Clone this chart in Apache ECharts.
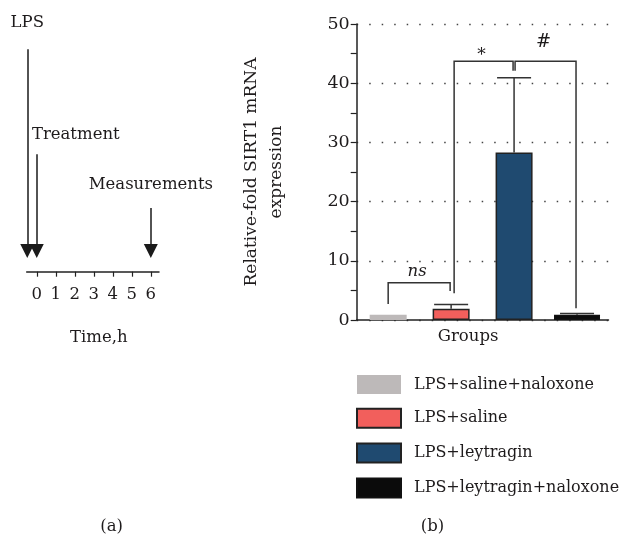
<!DOCTYPE html>
<html><head><meta charset="utf-8">
<script src="https://cdn.jsdelivr.net/npm/echarts@6/dist/echarts.min.js"></script>
<style>html,body{margin:0;padding:0;background:#fff}#c{width:627px;height:537px}</style>
</head><body><div id="c"></div>
<script>
// ---------- Data: panel (a) timeline ----------
const timeTicks = [0, 1, 2, 3, 4, 5, 6];
const timeTickLabels = ['0', '1', '2', '3', '4', '5', '6'];
const eventNames = ['LPS', 'Treatment', 'Measurements'];
const eventTimes = [-0.5, 0, 6];

// ---------- Data: panel (b) bar chart ----------
const groups = ['LPS+saline+naloxone', 'LPS+saline', 'LPS+leytragin', 'LPS+leytragin+naloxone'];
const means = [0.9, 1.9, 28.3, 0.9];
const upperErrors = [null, 2.6, 40.9, 1.1];
const yTickLabels = ['0', '10', '20', '30', '40', '50'];
const bracketFrom = [0, 1, 2];
const bracketTo = [1, 2, 3];
const bracketTop = [6.3, 43.7, 43.7];
const bracketLeftEnd = [2.7, 4.5, 42.1];
const bracketRightEnd = [4.9, 42.1, 2.0];
const bracketMarks = ['ns', '*', '#'];

// ---------- Styles / layout ----------
const FONT = 'DejaVu Serif';
const TXT = '#1e1b1c';
const barColors = ['#bdb9b9', '#f25f5c', '#1f4a70', '#0b0b0b'];
const barBorders = [null, '#222', '#222', '#111'];
const eventStartHeights = [89, 47, 25.5];
const arrowEndHeight = 8.3;
const eventLabelOffsets = [[0, -26], [39, -19], [0, -23]];
const bracketPxOffsets = [[0, -1], [3, -1], [1, -1]];
const markStyles = [
  {size: 16.5, italic: true, dy: -11},
  {size: 17, italic: false, dy: -6},
  {size: 18, italic: false, dy: -18.5}
];

const chart = echarts.init(document.getElementById('c'), null, {renderer: 'canvas'});

const barSeries = groups.map((g, i) => ({
  type: 'bar',
  name: g,
  xAxisIndex: i === 3 ? 2 : 1,
  yAxisIndex: 1,
  barWidth: i === 3 ? 46 : 37,
  barGap: '-100%',
  data: groups.map((_, j) => (j === i ? means[i] : '-')),
  itemStyle: {
    color: barColors[i],
    borderColor: barBorders[i] || barColors[i],
    borderWidth: barBorders[i] ? 1.5 : 0
  },
  emphasis: {disabled: true},
  z: 2
}));

const errData = [];
upperErrors.forEach((u, j) => { if (u != null) errData.push([j, means[j], u]); });

const bracketData = bracketFrom.map((f, k) => [f, bracketTo[k], bracketTop[k], bracketLeftEnd[k], bracketRightEnd[k], k]);

const option = {
  backgroundColor: '#fff',
  animation: false,
  textStyle: {fontFamily: FONT, color: TXT},
  grid: [
    {left: 26.7, right: 468, top: 21.7, bottom: 265.3, outerBoundsMode: 'none'},
    {left: 356.7, right: 18.5, top: 24, bottom: 217, outerBoundsMode: 'none'}
  ],
  xAxis: [
    {
      type: 'value', gridIndex: 0, min: -0.53, max: 6.43,
      axisLine: {show: true, lineStyle: {color: '#222', width: 1.5}},
      axisTick: {show: true, customValues: timeTicks, length: 5, lineStyle: {color: '#222', width: 1.2}},
      axisLabel: {show: true, customValues: timeTicks, margin: 15,
        formatter: v => timeTickLabels[timeTicks.indexOf(Math.round(v))],
        fontFamily: FONT, fontSize: 16.5, color: TXT},
      splitLine: {show: false},
      name: 'Time,h', nameLocation: 'middle', nameGap: 58,
      nameTextStyle: {fontFamily: FONT, fontSize: 16.5, color: TXT, padding: [0, 0, 0, 12]}
    },
    {
      type: 'category', gridIndex: 1, data: groups,
      axisLine: {show: true, lineStyle: {color: '#222', width: 1.5}},
      axisTick: {show: false},
      axisLabel: {show: false},
      name: 'Groups', nameLocation: 'middle', nameGap: 8,
      nameTextStyle: {fontFamily: FONT, fontSize: 16.5, color: TXT, padding: [0, 29, 0, 0]}
    },
    {
      type: 'category', gridIndex: 1, data: groups, show: false
    }
  ],
  yAxis: [
    {type: 'value', gridIndex: 0, min: 0, max: 100, show: false},
    {
      type: 'value', gridIndex: 1, min: 0, max: 50, interval: 10,
      axisLine: {show: true, lineStyle: {color: '#222', width: 1.5}},
      axisTick: {show: true, length: 6, lineStyle: {color: '#222', width: 1.2}},
      minorTick: {show: true, splitNumber: 2, length: 6, lineStyle: {color: '#222', width: 1.2}},
      axisLabel: {margin: 7, fontFamily: FONT, fontSize: 17.5, color: TXT,
        formatter: v => yTickLabels[Math.round(v / 10)]},
      splitLine: {show: true, lineStyle: {color: '#444', width: 1.3, type: [1.5, 11]}},
      name: 'Relative-fold SIRT1 mRNA\nexpression', nameLocation: 'middle', nameGap: 68,
      nameTextStyle: {fontFamily: FONT, fontSize: 17, color: TXT, lineHeight: 25, align: 'center'}
    }
  ],
  legend: {
    data: groups, orient: 'vertical', left: 356, top: 375, padding: 0,
    itemWidth: 44, itemHeight: 19, itemGap: 13.8, icon: 'rect',
    selectedMode: false,
    textStyle: {fontFamily: FONT, fontSize: 16, color: TXT, padding: [0, 0, 0, 8]}
  },
  graphic: [
    {type: 'text', x: 111.7, y: 526.7, style: {text: '(a)', font: '16.5px "DejaVu Serif"', fill: TXT, align: 'center', verticalAlign: 'middle'}},
    {type: 'text', x: 432.5, y: 526.7, style: {text: '(b)', font: '16.5px "DejaVu Serif"', fill: TXT, align: 'center', verticalAlign: 'middle'}}
  ],
  series: [
    {
      type: 'lines', coordinateSystem: 'cartesian2d', xAxisIndex: 0, yAxisIndex: 0,
      symbol: ['none', 'triangle'], symbolSize: 14, clip: false,
      lineStyle: {color: '#1a1a1a', width: 1.5, opacity: 1},
      itemStyle: {color: '#1a1a1a'},
      data: eventTimes.map((t, i) => ({coords: [[t, eventStartHeights[i]], [t, arrowEndHeight]]})),
      silent: true
    },
    {
      type: 'scatter', xAxisIndex: 0, yAxisIndex: 0, symbolSize: 0, silent: true, clip: false,
      itemStyle: {opacity: 1, color: TXT},
      data: eventTimes.map((t, i) => ({
        name: eventNames[i], value: [t, eventStartHeights[i]],
        label: {offset: eventLabelOffsets[i]}
      })),
      label: {show: true, position: 'inside', formatter: '{b}', fontFamily: FONT, fontSize: 16.5,
        color: TXT, textBorderWidth: 0, opacity: 1}
    },
    ...barSeries,
    {
      type: 'custom', xAxisIndex: 1, yAxisIndex: 1, z: 5, silent: true,
      encode: {x: 0, y: [1, 2]},
      data: errData,
      renderItem: (params, api) => {
        const p0 = api.coord([api.value(0), api.value(1)]);
        const p1 = api.coord([api.value(0), api.value(2)]);
        const hw = 17;
        const st = {stroke: '#333', lineWidth: 1.5};
        return {type: 'group', children: [
          {type: 'line', shape: {x1: p0[0], y1: p0[1], x2: p1[0], y2: p1[1]}, style: st},
          {type: 'line', shape: {x1: p1[0] - hw, y1: p1[1], x2: p1[0] + hw, y2: p1[1]}, style: st}
        ]};
      }
    },
    {
      type: 'custom', xAxisIndex: 1, yAxisIndex: 1, z: 6, silent: true,
      encode: {x: [0, 1], y: [2, 3, 4]},
      data: bracketData,
      renderItem: (params, api) => {
        const k = api.value(5);
        const off = bracketPxOffsets[k];
        const a = api.coord([api.value(0), api.value(2)]);
        const b = api.coord([api.value(1), api.value(2)]);
        const aEnd = api.coord([api.value(0), api.value(3)]);
        const bEnd = api.coord([api.value(1), api.value(4)]);
        const xl = a[0] + off[0], xr = b[0] + off[1];
        const ms = markStyles[k];
        return {type: 'group', children: [
          {type: 'polyline', shape: {points: [[xl, aEnd[1]], [xl, a[1]], [xr, b[1]], [xr, bEnd[1]]]},
            style: {stroke: '#333', lineWidth: 1.5, fill: null}},
          {type: 'text', x: (xl + xr) / 2 - 2, y: a[1] + ms.dy,
            style: {text: bracketMarks[k], fill: TXT, fontFamily: FONT, fontSize: ms.size,
              fontStyle: ms.italic ? 'italic' : 'normal', align: 'center', verticalAlign: 'middle'}}
        ]};
      }
    }
  ]
};
chart.setOption(option);
</script>
</body></html>
